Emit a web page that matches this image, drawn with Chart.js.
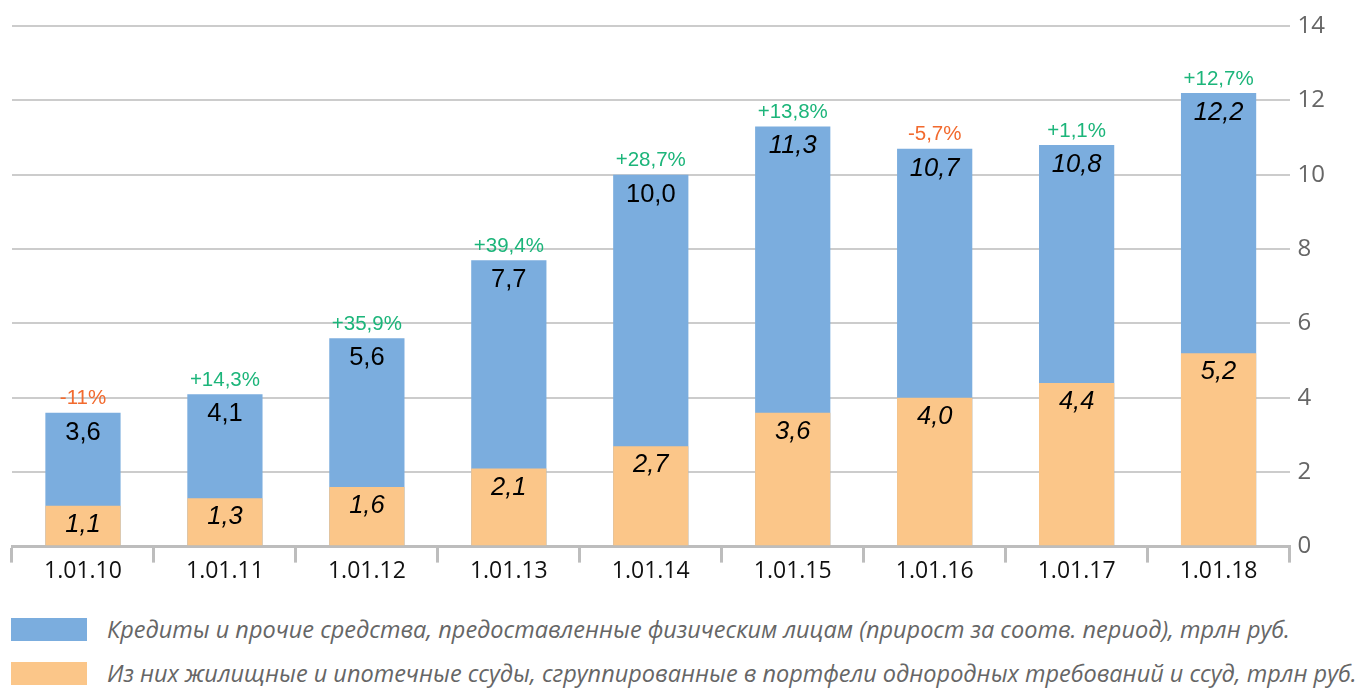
<!DOCTYPE html>
<html>
<head>
<meta charset="utf-8">
<script src="https://cdn.jsdelivr.net/npm/chart.js@4"></script>
<style>
  body { margin: 0; background: #fff; }
  #wrap { position: relative; width: 1357px; height: 688px; }
  #chartBox { position: absolute; left: 0; top: 0; width: 1357px; height: 600px; }
  .legend { position: absolute; left: 11px; font-family: "Open Sans", sans-serif; font-style: italic; font-size: 23.5px; color: #666; }
  .legend .sw { position: absolute; left: 0; width: 76px; height: 23px; }
  .legend span.t { position: absolute; left: 96px; top: -2px; white-space: nowrap; line-height: 26px; }
</style>
</head>
<body>
<div id="wrap">
  <div id="chartBox"><canvas id="loansChart"></canvas></div>
  <div class="legend" style="top:618px"><div class="sw" style="background:#7badde"></div><span class="t">Кредиты и прочие средства, предоставленные физическим лицам (прирост за соотв. период), трлн руб.</span></div>
  <div class="legend" style="top:662px"><div class="sw" style="background:#fbc689"></div><span class="t">Из них жилищные и ипотечные ссуды, сгруппированные в портфели однородных требований и ссуд, трлн руб.</span></div>
</div>
<script>
const dates = ['1.01.10', '1.01.11', '1.01.12', '1.01.13', '1.01.14', '1.01.15', '1.01.16', '1.01.17', '1.01.18'];
const totalLoans = [3.6, 4.1, 5.6, 7.7, 10.0, 11.3, 10.7, 10.8, 12.2];
const mortgageLoans = [1.1, 1.3, 1.6, 2.1, 2.7, 3.6, 4.0, 4.4, 5.2];
const growthLabels = ['-11%', '+14,3%', '+35,9%', '+39,4%', '+28,7%', '+13,8%', '-5,7%', '+1,1%', '+12,7%'];
const yTicks = [0, 2, 4, 6, 8, 10, 12, 14];

// first bars have upright totals, the rest are italic in the source
const italicTotalsFrom = 5;

const fmt = v => v.toFixed(1).replace('.', ',');

const barLabels = {
    id: 'barLabels',
    afterDatasetsDraw(chart) {
        const ctx = chart.ctx;
        const blue = chart.getDatasetMeta(1).data;
        const orange = chart.getDatasetMeta(0).data;
        ctx.save();
        ctx.textAlign = 'center';
        ctx.textBaseline = 'middle';
        blue.forEach((bar, i) => {
            ctx.fillStyle = '#000';
            ctx.font = (i >= italicTotalsFrom ? 'italic ' : '') + '25.5px "Liberation Sans", Arial';
            ctx.fillText(fmt(totalLoans[i]), bar.x, bar.y + 20);
            const g = growthLabels[i];
            ctx.fillStyle = g.startsWith('-') ? '#f26a2e' : '#1cb57a';
            ctx.font = '20.5px "Liberation Sans", Arial';
            ctx.fillText(g, bar.x, bar.y - 14);
        });
        orange.forEach((bar, i) => {
            ctx.fillStyle = '#000';
            ctx.font = 'italic 25.5px "Liberation Sans", Arial';
            ctx.fillText(fmt(mortgageLoans[i]), bar.x, bar.y + 19);
        });
        ctx.restore();
    }
};

new Chart(document.getElementById('loansChart'), {
    type: 'bar',
    data: {
        labels: dates,
        datasets: [
            {
                label: 'Из них жилищные и ипотечные ссуды',
                data: mortgageLoans,
                backgroundColor: '#fbc689',
                order: 1
            },
            {
                label: 'Кредиты и прочие средства',
                data: totalLoans,
                backgroundColor: '#7badde',
                order: 2
            }
        ]
    },
    options: {
        responsive: true,
        maintainAspectRatio: false,
        animation: false,
        layout: { padding: { top: 26, right: 24, left: 12, bottom: 20 } },
        datasets: { bar: { grouped: false, barPercentage: 0.53, categoryPercentage: 1 } },
        plugins: {
            legend: { display: false },
            tooltip: { enabled: false }
        },
        scales: {
            x: {
                grid: {
                    offset: true,
                    drawOnChartArea: false,
                    color: '#bdbdbd',
                    lineWidth: 3,
                    tickLength: 16
                },
                border: { color: '#bdbdbd', width: 3 },
                ticks: {
                    color: '#111',
                    font: { family: '"Open Sans", sans-serif', size: 23, lineHeight: 1.8 },
                    padding: -12
                }
            },
            y: {
                position: 'right',
                min: 0,
                max: 14,
                afterBuildTicks: axis => { axis.ticks = yTicks.map(v => ({ value: v })); },
                grid: { color: '#cccccc', lineWidth: 2, drawTicks: false },
                border: { display: false },
                ticks: {
                    color: '#666',
                    padding: 8,
                    font: { family: '"Open Sans", sans-serif', size: 24 }
                }
            }
        }
    },
    plugins: [barLabels]
});
</script>
</body>
</html>
